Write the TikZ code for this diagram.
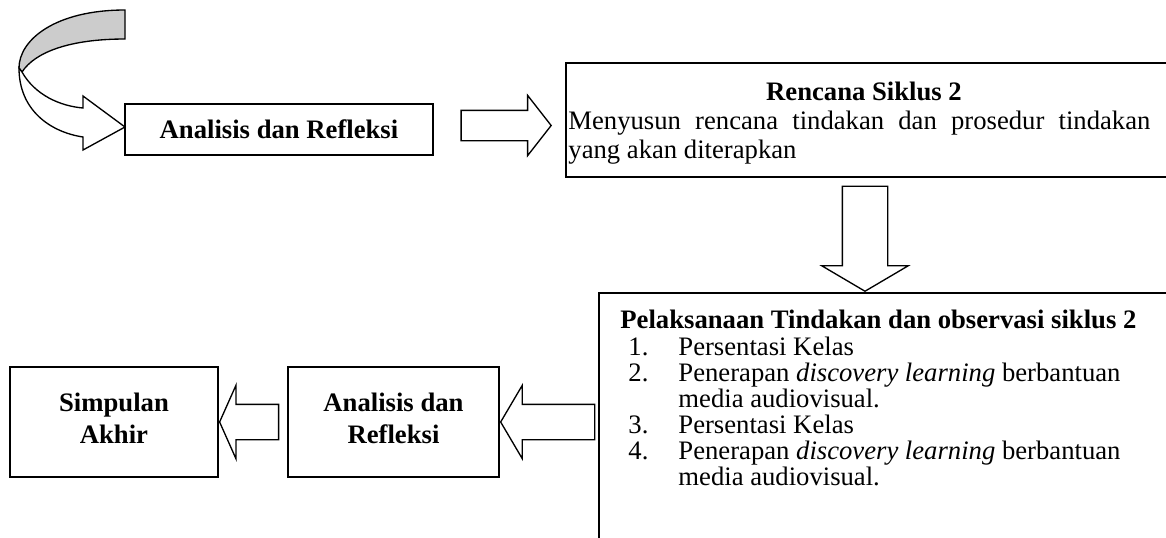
\documentclass[tikz,border=0pt]{standalone}
\usepackage{fontspec}
\setmainfont{Liberation Serif}
\usetikzlibrary{shapes.arrows}

\begin{document}
\begin{tikzpicture}[x=0.45pt, y=-0.45pt,
    font=\fontsize{12}{13}\selectfont,
    box/.style={draw, line width=0.8pt, inner sep=0pt},
    tebal/.style={font=\fontsize{12}{13}\selectfont\bfseries},
    blockarrow/.style={single arrow, draw, line width=0.6pt, inner xsep=0pt, anchor=tip}]
  \useasboundingbox (0,0) rectangle (1166,537);
  \clip (0,0) rectangle (1166,537);
  %curved arrow at the start
  \filldraw[fill=gray!40, line width=0.6pt] (125,10) .. controls (55,10) and (19,40) .. (19,68)
    -- (22,72) .. controls (35,52) and (70,39) .. (125,39) -- cycle;
  \filldraw[fill=white, line width=0.6pt] (22,72) .. controls (35,95) and (60,106) .. (83,108)
    -- (83,96) -- (125,127) -- (83,150) -- (83,137) .. controls (50,132) and (19,110) .. (19,68) -- cycle;
  %first row
  \node[box, tebal, minimum width=138.6pt, minimum height=22.95pt] (analisisA) at (279,129.5) {Analisis dan Refleksi};
  \node[box, anchor=north west, minimum width=285.75pt, minimum height=51.3pt] (rencana) at (565,62) {};
  \node[tebal, anchor=base, inner sep=0pt] (rencanaT) at (864,100) {Rencana Siklus 2};
  \node[anchor=north west, inner sep=0pt, text width=261.9pt, align=justify] (rencanaB) at (568,111)
    {Menyusun rencana tindakan dan prosedur tindakan\linebreak yang akan diterapkan};
  \node[blockarrow, minimum height=40.5pt, minimum width=26.55pt, inner ysep=6.525pt,
    single arrow head extend=6.75pt, single arrow tip angle=104] (panah1) at (552,125.5) {};
  %down to the second row
  \node[blockarrow, rotate=-90, minimum height=47.25pt, minimum width=38.25pt, inner ysep=9.9pt,
    single arrow head extend=9.225pt, single arrow tip angle=119] (panah2) at (865,292) {};
  \node[box, anchor=north west, minimum width=270.9pt, minimum height=120.6pt] (pelaksanaan) at (598,292) {};
  \node[tebal, anchor=base west, inner sep=0pt] (pelaksanaanT) at (620,328)
    {Pelaksanaan Tindakan dan observasi siklus 2};
  \node[anchor=base west, inner sep=0pt, font=\fontsize{12}{11.5}\selectfont] (langkah) at (628,355)
    {\begin{tabular}[t]{@{}p{22.5pt}@{}l@{}}
      1. & Persentasi Kelas\\
      2. & Penerapan \textit{discovery learning} berbantuan\\
         & media audiovisual.\\
      3. & Persentasi Kelas\\
      4. & Penerapan \textit{discovery learning} berbantuan\\
         & media audiovisual.
    \end{tabular}};
  %second row, right to left
  \node[box, minimum width=94.95pt, minimum height=49.5pt, align=center,
    font=\fontsize{12}{14.4}\selectfont\bfseries] (analisisB) at (393.5,422) {Analisis dan\\Refleksi\\[-10.8pt]};
  \node[box, minimum width=93.6pt, minimum height=49.5pt, align=center,
    font=\fontsize{12}{14.4}\selectfont\bfseries] (simpulan) at (114,422) {Simpulan\\Akhir\\[-10.8pt]};
  \node[blockarrow, rotate=180, minimum height=42.3pt, minimum width=32.4pt, inner ysep=7.65pt,
    single arrow head extend=8.55pt, single arrow tip angle=119] (panah3) at (analisisB.east) {};
  \node[blockarrow, rotate=180, minimum height=26.55pt, minimum width=32.4pt, inner ysep=7.65pt,
    single arrow head extend=8.55pt, single arrow tip angle=132] (panah4) at (simpulan.east) {};
\end{tikzpicture}
\end{document}
